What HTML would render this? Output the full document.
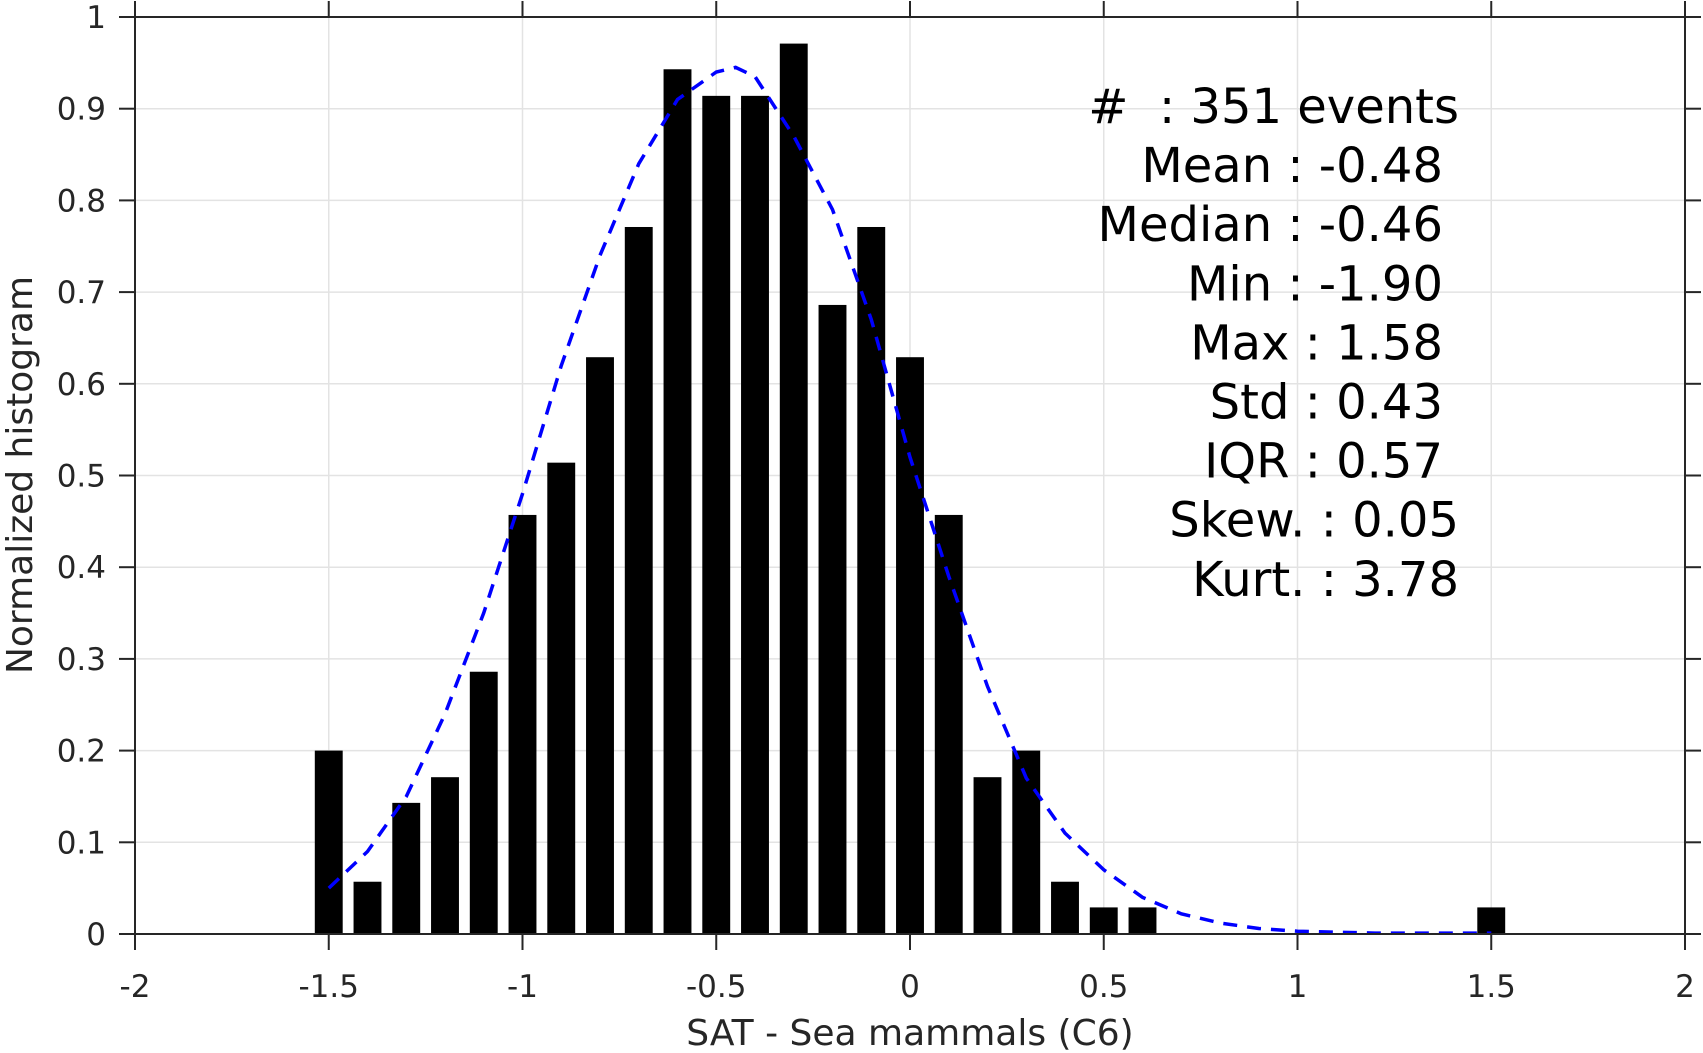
<!DOCTYPE html>
<html><head><meta charset="utf-8"><style>
body{margin:0;background:#fff}
svg{display:block;font-family:"DejaVu Sans","Liberation Sans",sans-serif}
</style></head><body>
<svg id="chart" width="1703" height="1053" viewBox="0 0 1703 1053" xmlns="http://www.w3.org/2000/svg">
<g id="grid"></g>
<g id="bars"></g>
<path id="fit" fill="none" stroke="#0000ff" stroke-width="3.5" stroke-dasharray="14,10"/>
<g id="axes"></g>
<g id="stats" font-size="48" fill="#000" text-anchor="end"></g>
<text x="910" y="1045" font-size="36" fill="#262626" text-anchor="middle">SAT - Sea mammals (C6)</text>
<text transform="translate(32,475) rotate(-90)" font-size="36" fill="#262626" text-anchor="middle">Normalized histogram</text>
</svg>
<script>
const binCenters=[-1.5,-1.4,-1.3,-1.2,-1.1,-1.0,-0.9,-0.8,-0.7,-0.6,-0.5,-0.4,-0.3,-0.2,-0.1,0.0,0.1,0.2,0.3,0.4,0.5,0.6,1.5];
const binValues=[0.2,0.057,0.143,0.171,0.286,0.457,0.514,0.629,0.771,0.943,0.914,0.914,0.971,0.686,0.771,0.629,0.457,0.171,0.2,0.057,0.029,0.029,0.029];
const fitX=[-1.5,-1.4,-1.3,-1.2,-1.1,-1.0,-0.9,-0.8,-0.7,-0.6,-0.5,-0.45,-0.4,-0.3,-0.2,-0.1,0.0,0.1,0.2,0.3,0.4,0.5,0.6,0.7,0.8,0.9,1.0,1.1,1.2,1.3,1.4,1.5];
const fitY=[0.05,0.09,0.15,0.24,0.35,0.48,0.62,0.74,0.84,0.91,0.94,0.945,0.935,0.87,0.79,0.67,0.52,0.39,0.27,0.17,0.11,0.07,0.04,0.022,0.012,0.006,0.003,0.002,0.001,0.001,0.001,0.001];
const xTicks=[-2,-1.5,-1,-0.5,0,0.5,1,1.5,2];
const xTickLabels=["-2","-1.5","-1","-0.5","0","0.5","1","1.5","2"];
const yTicks=[0,0.1,0.2,0.3,0.4,0.5,0.6,0.7,0.8,0.9,1];
const yTickLabels=["0","0.1","0.2","0.3","0.4","0.5","0.6","0.7","0.8","0.9","1"];
const statLines=["#  : 351 events","Mean : -0.48","Median : -0.46","Min : -1.90","Max : 1.58","Std : 0.43","IQR : 0.57","Skew. : 0.05","Kurt. : 3.78"];

const X0=135,X1=1685,Y0=934,Y1=17;
const sx=v=>X0+(v+2)/4*(X1-X0);
const sy=v=>Y0-v*(Y0-Y1);
const NS="http://www.w3.org/2000/svg";
function mk(tag,parent,attrs){const e=document.createElementNS(NS,tag);for(const k in attrs)e.setAttribute(k,attrs[k]);parent.appendChild(e);return e;}
const grid=document.getElementById('grid'),axes=document.getElementById('axes'),bars=document.getElementById('bars');
xTicks.forEach((t,i)=>{
  const g=mk('line',grid,{x1:sx(t),x2:sx(t),y1:Y1,y2:Y0,stroke:'#e3e3e3','stroke-width':1.5});
  
  
  const a=mk('line',axes,{x1:sx(t),x2:sx(t),y1:Y0,y2:Y0+16,stroke:'#262626','stroke-width':2});
  
  
  const b=mk('line',axes,{x1:sx(t),x2:sx(t),y1:Y1,y2:Y1-16,stroke:'#262626','stroke-width':2});
  
  
  const l=mk('text',axes,{x:sx(t),y:997,'font-size':31,fill:'#262626','text-anchor':'middle'});
  l.textContent=xTickLabels[i];
  
  
});
yTicks.forEach((t,i)=>{
  const g=mk('line',grid,{x1:X0,x2:X1,y1:sy(t),y2:sy(t),stroke:'#e3e3e3','stroke-width':1.5});
  
  
  const a=mk('line',axes,{x1:X0-16,x2:X0,y1:sy(t),y2:sy(t),stroke:'#262626','stroke-width':2});
  
  
  const b=mk('line',axes,{x1:X1,x2:X1+16,y1:sy(t),y2:sy(t),stroke:'#262626','stroke-width':2});
  
  
  const l=mk('text',axes,{x:106,y:sy(t)+11,'font-size':31,fill:'#262626','text-anchor':'end'});
  l.textContent=yTickLabels[i];
  
  
});
const frame=mk('rect',axes,{x:X0,y:Y1,width:X1-X0,height:Y0-Y1,fill:'none',stroke:'#262626','stroke-width':2});


const bw=0.072;
binCenters.forEach((c,i)=>{
  const x=sx(c-bw/2),w=sx(c+bw/2)-x,y=sy(binValues[i]);
  const r=mk('rect',bars,{x:x,y:y,width:w,height:Y0-y,fill:'#000'});
  
  
});
document.getElementById('fit').setAttribute('d',fitX.map((v,i)=>(i?'L':'M')+sx(v).toFixed(1)+' '+sy(fitY[i]).toFixed(1)).join(' '));
const stats=document.getElementById('stats');
const rightEdges=[1459,1443,1443,1443,1443,1443,1443,1459,1459];
statLines.forEach((s,i)=>{
  const t=mk('text',stats,{x:rightEdges[i],y:123+i*59.1});
  t.setAttribute('xml:space','preserve');
  t.style.whiteSpace='pre';
  t.textContent=s;
  
  
});
</script>
</body></html>
